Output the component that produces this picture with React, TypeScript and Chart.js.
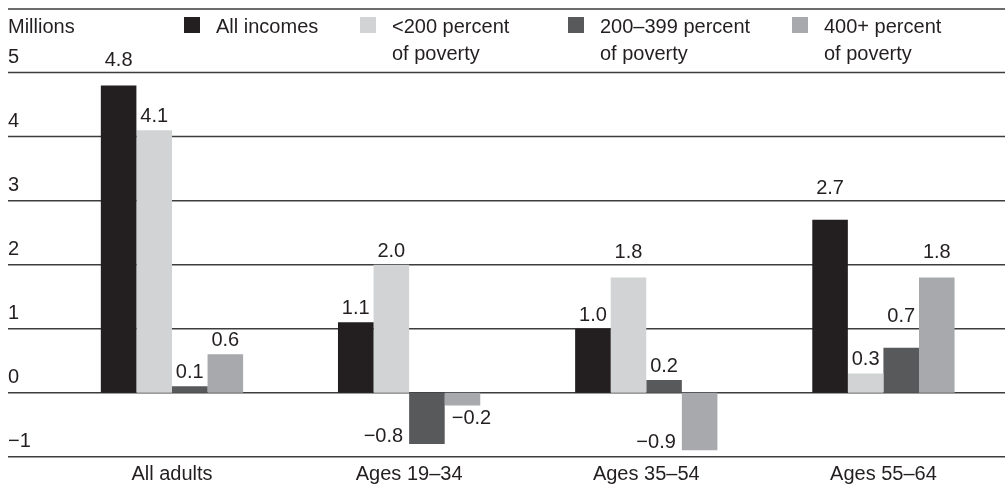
import React, { useEffect, useRef } from 'react';
import { Chart, registerables } from 'chart.js';

Chart.register(...registerables);

// ---- data ----
const categories = ['All adults', 'Ages 19–34', 'Ages 35–54', 'Ages 55–64'];
const seriesNames: string[][] = [
  ['All incomes'],
  ['<200 percent', 'of poverty'],
  ['200–399 percent', 'of poverty'],
  ['400+ percent', 'of poverty'],
];
const allIncomes = [4.8, 1.1, 1.0, 2.7];
const below200 = [4.1, 2.0, 1.8, 0.3];
const from200to399 = [0.1, -0.8, 0.2, 0.7];
const above400 = [0.6, -0.2, -0.9, 1.8];
const yTickValues = [-1, 0, 1, 2, 3, 4, 5];
const unitLabel = 'Millions';

const seriesValues = [allIncomes, below200, from200to399, above400];
const colors = ['#231f20', '#d1d3d4', '#58595b', '#a7a9ac'];

// ---- style ----
const FAMILY = '"Liberation Sans", Arial, sans-serif';
const FONT_SIZE = 20;
const FONT = `${FONT_SIZE}px ${FAMILY}`;
const TEXT = '#231f20';
const LEGEND_X = [184, 360, 568, 792];

const fmtValue = (v: number) => (v < 0 ? '\u2212' : '') + Math.abs(v).toFixed(1);
const fmtTick = (v: number) => (v < 0 ? '\u2212' : '') + String(Math.abs(v));

const decorPlugin = {
  id: 'decor',
  beforeDatasetsDraw(chart: any) {
    const { ctx } = chart;
    const y = chart.scales.y;
    ctx.save();
    ctx.strokeStyle = '#3d3d3d';
    ctx.lineWidth = 1.5;
    ctx.beginPath();
    const left = 8;
    const right = chart.width;
    y.ticks.forEach((t: any) => {
      const py = y.getPixelForValue(t.value);
      ctx.moveTo(left, py);
      ctx.lineTo(right, py);
    });
    ctx.moveTo(left, 9);
    ctx.lineTo(right, 9);
    ctx.stroke();
    ctx.restore();
  },
  afterDatasetsDraw(chart: any) {
    const { ctx } = chart;
    const y = chart.scales.y;
    const grid = y.ticks.map((t: any) => y.getPixelForValue(t.value));
    ctx.save();
    ctx.font = FONT;
    ctx.fillStyle = TEXT;
    ctx.textBaseline = 'alphabetic';
    chart.data.datasets.forEach((ds: any, di: number) => {
      const meta = chart.getDatasetMeta(di);
      meta.data.forEach((bar: any, i: number) => {
        const v = ds.data[i] as number;
        const { x, y: end, width } = bar.getProps(['x', 'y', 'width'], true);
        const txt = fmtValue(v);
        if (v >= 0) {
          let bl = end - 8;
          for (const g of grid) {
            if (g >= bl - 15 && g <= bl + 3) bl = g - 7;
          }
          ctx.textAlign = 'center';
          ctx.fillText(txt, x, bl);
        } else {
          const prev = di > 0 ? (chart.data.datasets[di - 1].data[i] as number) : 0;
          const leftEdge = x - width / 2;
          if (prev < v) {
            ctx.textAlign = 'left';
            ctx.fillText(txt, leftEdge + 7, end + 18.5);
          } else {
            ctx.textAlign = 'right';
            ctx.fillText(txt, leftEdge - 6, end - 2);
          }
        }
      });
    });
    ctx.restore();
  },
  afterDraw(chart: any) {
    const { ctx } = chart;
    ctx.save();
    ctx.font = FONT;
    ctx.textAlign = 'left';
    ctx.textBaseline = 'alphabetic';
    ctx.fillStyle = TEXT;
    ctx.fillText(unitLabel, 8, 33);
    LEGEND_X.forEach((lx, k) => {
      ctx.fillStyle = colors[k];
      ctx.fillRect(lx, 17, 16, 16);
      ctx.fillStyle = TEXT;
      seriesNames[k].forEach((line, j) => {
        ctx.fillText(line, lx + 32, 33 + j * 26.5);
      });
    });
    ctx.restore();
  },
};

export default function App() {
  const ref = useRef<HTMLCanvasElement | null>(null);

  useEffect(() => {
    document.body.style.margin = '0';
    const canvas = ref.current;
    if (!canvas) return;
    const chart = new Chart(canvas, {
      type: 'bar',
      data: {
        labels: categories,
        datasets: seriesValues.map((d, k) => ({
          label: seriesNames[k].join(' '),
          data: d,
          backgroundColor: colors[k],
          borderWidth: 0,
          categoryPercentage: 0.6,
          barPercentage: 1.0,
        })),
      },
      options: {
        responsive: false,
        animation: false,
        devicePixelRatio: 1,
        layout: { padding: { left: 8, right: 3, top: 72.6, bottom: 0 } },
        plugins: {
          legend: { display: false },
          tooltip: { enabled: false },
          title: { display: false },
        },
        scales: {
          x: {
            grid: { display: false, drawTicks: false },
            border: { display: false },
            ticks: {
              color: TEXT,
              font: { family: FAMILY, size: FONT_SIZE },
              padding: 6,
              maxRotation: 0,
              autoSkip: false,
            },
            afterFit: (s: any) => {
              s.height = 34.3;
            },
          },
          y: {
            min: -1,
            max: 5,
            afterBuildTicks: (s: any) => {
              s.ticks = yTickValues.map((v) => ({ value: v }));
            },
            grid: { display: false, drawTicks: false },
            border: { display: false },
            ticks: {
              crossAlign: 'far',
              labelOffset: -15,
              padding: 0,
              color: TEXT,
              font: { family: FAMILY, size: FONT_SIZE },
              callback: (v: any) => fmtTick(Number(v)),
            },
            afterFit: (s: any) => {
              s.width = 45.4;
            },
          },
        },
      } as any,
      plugins: [decorPlugin],
    });
    return () => chart.destroy();
  }, []);

  return (
    <div style={{ width: 1005, height: 491 }}>
      <canvas ref={ref} width={1005} height={491} style={{ display: 'block', width: 1005, height: 491 }} />
    </div>
  );
}
